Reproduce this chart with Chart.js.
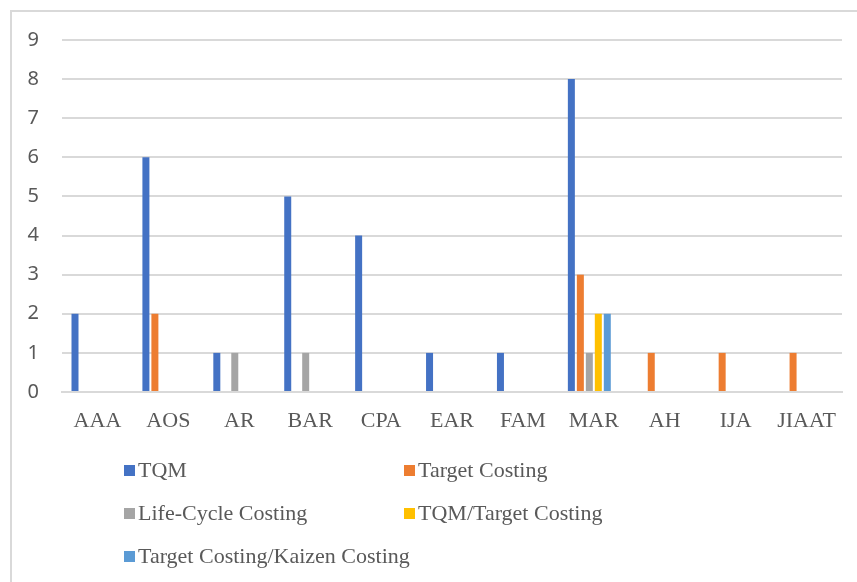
<!DOCTYPE html>
<html>
<head>
<meta charset="utf-8">
<script src="https://cdn.jsdelivr.net/npm/chart.js@4.4.0/dist/chart.umd.min.js"></script>
<style>
  html, body { margin: 0; padding: 0; background: #fff; }
  #wrap { position: relative; width: 857px; height: 582px; overflow: hidden; }
  #frame { position: absolute; left: 10px; top: 10px; width: 857px; height: 582px;
           border-top: 2px solid #d9d9d9; border-left: 2px solid #d9d9d9; box-sizing: border-box; }
  canvas { position: absolute; left: 0; top: 0; }
  .lg { position: absolute; font-family: "Liberation Serif", "Times New Roman", serif; font-size: 22px;
        color: #595959; white-space: nowrap; line-height: 22px; }
  .lg span.sw { position: absolute; width: 11px; height: 11px; left: 0; top: 6px; }
  .lg span.tx { position: absolute; left: 14px; top: 0; }
</style>
</head>
<body>
<div id="wrap">
  <div id="frame"></div>
  <canvas id="c" width="857" height="582"></canvas>
  <div id="legend"></div>
</div>
<script>
const categories = ["AAA", "AOS", "AR", "BAR", "CPA", "EAR", "FAM", "MAR", "AH", "IJA", "JIAAT"];
const seriesNames = ["TQM", "Target Costing", "Life-Cycle Costing", "TQM/Target Costing", "Target Costing/Kaizen Costing"];
const tqm          = [2, 6, 1, 5, 4, 1, 1, 8, 0, 0, 0];
const targetCost   = [0, 2, 0, 0, 0, 0, 0, 3, 1, 1, 1];
const lifeCycle    = [0, 0, 1, 1, 0, 0, 0, 1, 0, 0, 0];
const tqmTarget    = [0, 0, 0, 0, 0, 0, 0, 2, 0, 0, 0];
const targetKaizen = [0, 0, 0, 0, 0, 0, 0, 2, 0, 0, 0];
const emptySeries  = [null, null, null, null, null, null, null, null, null, null, null];
const yTicks = [0, 1, 2, 3, 4, 5, 6, 7, 8, 9];
const colors = ["#4472C4", "#ED7D31", "#A5A5A5", "#FFC000", "#5B9BD5"];

const values = [tqm, targetCost, lifeCycle, tqmTarget, targetKaizen];
const datasets = values.map((v, i) => ({
  label: seriesNames[i], data: v, backgroundColor: colors[i],
  categoryPercentage: 0.76, barPercentage: 0.78
}));
datasets.push({ label: "", data: emptySeries, backgroundColor: "rgba(0,0,0,0)",
  categoryPercentage: 0.76, barPercentage: 0.78 });

new Chart(document.getElementById("c"), {
  type: "bar",
  data: { labels: categories, datasets },
  options: {
    responsive: false, animation: false,
    layout: { padding: { left: 0, top: 40, right: 15, bottom: 0 } },
    plugins: { legend: { display: false }, tooltip: { enabled: false } },
    scales: {
      x: {
        grid: { display: false, drawTicks: false },
        border: { display: true, color: "#d9d9d9", width: 2 },
        ticks: { color: "#595959", padding: 16, maxRotation: 0,
                 font: { family: "Liberation Serif", size: 22 } },
        afterFit: s => { s.height = 190; }
      },
      y: {
        min: 0, max: 9,
        afterBuildTicks: s => { s.ticks = yTicks.map(v => ({ value: v })); },
        grid: { color: "#d9d9d9", lineWidth: 2, drawTicks: false },
        border: { display: false },
        ticks: { color: "#595959", padding: 23,
                 font: { family: "Noto Sans", size: 20 } },
        afterFit: s => { s.width = 62; }
      }
    }
  }
});

const legendPos = [[124, 459], [404, 459], [124, 502], [404, 502], [124, 545]];
const lg = document.getElementById("legend");
seriesNames.forEach((n, i) => {
  const d = document.createElement("div");
  d.className = "lg";
  d.style.left = legendPos[i][0] + "px";
  d.style.top = legendPos[i][1] + "px";
  d.innerHTML = '<span class="sw" style="background:' + colors[i] + '"></span><span class="tx"></span>';
  d.querySelector(".tx").textContent = n;
  lg.appendChild(d);
});
</script>
</body>
</html>
